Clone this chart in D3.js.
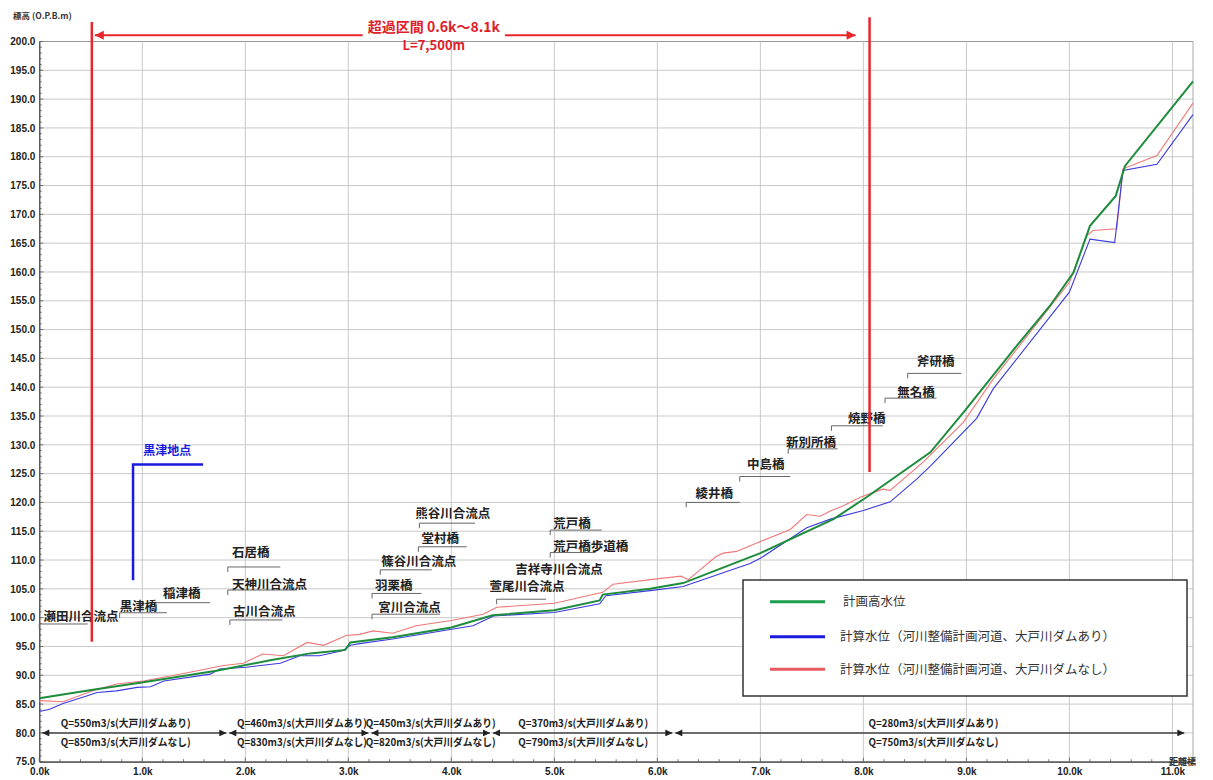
<!DOCTYPE html>
<html><head><meta charset="utf-8">
<script src="https://cdn.jsdelivr.net/npm/d3@7"></script>
<style>
body{margin:0;background:#fff}
text{font-family:"Noto Sans CJK JP","Noto Sans",sans-serif}
</style>
</head><body>
<svg id="c" width="1213" height="780"></svg>
<script>
// ---- data ----
const planKm    = [0.0,0.52,1.01,1.72,2.24,2.63,2.97,3.02,3.43,4.0,4.4,5.0,5.44,5.47,5.93,6.25,7.0,7.71,8.03,8.65,8.97,9.49,9.81,10.04,10.2,10.45,10.54,11.2];
const planLevel = [86.0,87.5,88.8,90.8,92.6,93.8,94.4,95.7,96.6,98.3,100.4,101.3,103.0,104.0,105.0,106.0,111.2,117.1,120.9,128.7,135.6,147.2,154.1,159.9,168.0,173.2,178.4,193.1];

const withDamKm    = [0.0,0.1,0.23,0.46,0.56,0.75,0.95,1.08,1.21,1.66,1.75,2.01,2.34,2.53,2.72,2.95,3.02,3.11,3.43,4.21,4.41,5.0,5.44,5.5,5.93,6.25,6.9,7.0,7.45,7.68,8.0,8.26,8.52,8.65,9.1,9.26,10.0,10.2,10.44,10.52,10.85,11.2];
const withDamLevel = [83.7,84.1,85.1,86.4,87.0,87.3,87.9,88.0,89.0,90.2,91.1,91.4,92.1,93.4,93.4,94.3,95.2,95.5,96.3,98.6,100.3,100.9,102.4,103.8,104.7,105.4,109.4,110.3,115.6,117.1,118.6,120.1,124.1,126.3,134.6,139.7,156.5,165.7,165.1,177.6,178.7,187.3];

const noDamKm    = [0.0,0.23,0.52,0.75,1.01,1.4,1.79,1.98,2.17,2.37,2.6,2.76,2.98,3.11,3.24,3.43,3.66,4.0,4.31,4.44,5.0,5.47,5.57,5.93,6.23,6.3,6.57,6.64,6.77,7.0,7.29,7.45,7.58,7.68,7.8,7.97,8.19,8.26,8.58,8.97,9.26,10.0,10.17,10.23,10.46,10.52,10.85,11.2];
const noDamLevel = [85.6,85.4,87.3,88.5,89.0,90.3,91.7,92.1,93.7,93.4,95.7,95.2,96.9,97.1,97.7,97.3,98.6,99.5,100.6,101.8,102.5,104.4,105.8,106.6,107.2,106.6,110.6,111.2,111.5,113.2,115.3,117.9,117.6,118.5,119.4,120.9,122.3,122.1,127.0,133.9,141.4,158.2,166.3,167.2,167.5,177.9,180.2,189.3];

const seriesNames = ["計画高水位","計算水位（河川整備計画河道、大戸川ダムあり）","計算水位（河川整備計画河道、大戸川ダムなし）"];

const yTicks = d3.range(75, 200.001, 5);
const xTicks = d3.range(0, 11.001, 1);

// site labels (km / elevation of text and leader)
const siteNames      = ["瀬田川合流点","黒津橋","稲津橋","石居橋","天神川合流点","古川合流点","宮川合流点","羽栗橋","篠谷川合流点","堂村橋","熊谷川合流点","萱尾川合流点","吉祥寺川合流点","荒戸橋","荒戸橋歩道橋","綾井橋","中島橋","新別所橋","焼野橋","無名橋","斧研橋"];
const siteTextKm     = [0.04,0.78,1.20,1.87,1.87,1.88,3.29,3.26,3.32,3.71,3.65,4.37,4.62,4.99,4.99,6.37,6.87,7.25,7.85,8.33,8.52];
const siteTextLevel  = [100.1,101.9,104.1,111.3,105.8,101.1,101.8,105.5,109.8,113.8,118.0,105.3,108.4,116.4,112.4,121.5,126.5,130.3,134.5,139.1,144.4];
const siteLineKm0    = [0.0,0.78,1.13,1.83,1.83,1.85,3.23,3.23,3.31,3.68,3.69,4.44,null,4.96,4.96,6.28,6.80,7.27,7.69,8.21,8.43];
const siteLineKm1    = [0.47,1.24,1.66,2.34,2.50,2.36,3.89,3.71,3.81,4.15,4.23,4.92,null,5.46,5.40,6.80,7.29,7.75,8.19,8.71,8.95];
const siteLineLevel  = [98.9,100.85,102.6,108.8,104.8,99.6,100.6,104.2,108.3,112.3,116.4,103.2,null,115.2,111.3,120.0,124.5,129.3,133.3,138.1,142.4];

// flow sections
const flowBounds  = [0.0,1.83,3.21,4.39,6.16,11.13];
const flowWithDam = [550,460,450,370,280];
const flowNoDam   = [850,830,820,790,750];
const flowTextKm  = [0.84,2.55,3.80,5.28,8.68];

// over-capacity section
const overKm = [0.51, 8.06];

// ---- drawing ----
const svg = d3.select("#c");
const x = d3.scaleLinear().domain([0, 11.2]).range([39.3, 1193]);
const y = d3.scaleLinear().domain([75, 200]).range([761.7, 41.5]);

const defs = svg.append("defs");
function marker(id, color, w, h){
  defs.append("marker").attr("id", id).attr("viewBox","0 0 10 10").attr("refX",10).attr("refY",5)
    .attr("markerWidth", w).attr("markerHeight", h).attr("markerUnits","userSpaceOnUse")
    .attr("orient","auto-start-reverse")
    .append("path").attr("d","M0,0L10,5L0,10Z").attr("fill", color);
}
marker("arR", "#e8262b", 12, 9);
marker("arK", "#222", 8, 7);

// grid
const g = svg.append("g");
g.selectAll(".hg").data(yTicks).join("line")
  .attr("x1", x(0)).attr("x2", x(11.2)).attr("y1", d=>y(d)).attr("y2", d=>y(d))
  .attr("stroke", d=> d===200 ? "#999" : "#c9c9c9").attr("stroke-width", 1);
g.selectAll(".vg").data(xTicks.filter(d=>d>0)).join("line")
  .attr("x1", d=>x(d)).attr("x2", d=>x(d)).attr("y1", y(200)).attr("y2", y(75))
  .attr("stroke", "#c9c9c9").attr("stroke-width", 1);
g.append("line").attr("x1", x(11.2)).attr("x2", x(11.2)).attr("y1", y(200)).attr("y2", y(75))
  .attr("stroke", "#aaa");

// axes
const yAxis = d3.axisLeft(y).tickValues(yTicks).tickSize(0).tickFormat(d3.format(".1f"));
const ya = svg.append("g").attr("transform", `translate(${x(0)},0)`).call(yAxis);
ya.select(".domain").attr("stroke", "#333").attr("stroke-width", 1.2);
ya.selectAll("text").attr("x", -4).attr("font-size", 10).attr("font-weight", 700)
  .attr("fill", "#222").style("font-family", "'Liberation Sans', Arial, sans-serif");

const xAxis = d3.axisBottom(x).tickValues(xTicks).tickSize(0).tickFormat(d=>d3.format(".1f")(d)+"k");
const xa = svg.append("g").attr("transform", `translate(0,${y(75)})`).call(xAxis);
xa.select(".domain").attr("stroke", "#333").attr("stroke-width", 1.2);
xa.selectAll("text").attr("y", 6).attr("font-size", 10).attr("font-weight", 700)
  .attr("fill", "#222").style("font-family", "'Liberation Sans', Arial, sans-serif");

// minor ticks
svg.append("g").selectAll("line").data(d3.range(75, 200.001, 1)).join("line")
  .attr("x1", x(0)).attr("x2", d => x(0) + (d % 5 === 0 ? 4 : 2.5)).attr("y1", d=>y(d)).attr("y2", d=>y(d))
  .attr("stroke", "#555").attr("stroke-width", 0.8);
svg.append("g").selectAll("line").data(d3.range(0, 11.201, 0.2)).join("line")
  .attr("x1", d=>x(d)).attr("x2", d=>x(d)).attr("y1", y(75)).attr("y2", (d,i) => y(75) - (i % 5 === 0 ? 4 : 2.5))
  .attr("stroke", "#555").attr("stroke-width", 0.8);

svg.append("text").attr("x", 13).attr("y", 19).attr("font-size", 8.5).attr("font-weight", 700)
  .attr("fill", "#333").text("標高 (O.P.B.m)");
svg.append("text").attr("x", 1196).attr("y", 765).attr("text-anchor", "end").attr("font-size", 9)
  .attr("font-weight", 700).attr("fill", "#333").text("距離標");

// flow sections
const flowG = svg.append("g");
for (let i = 0; i < flowWithDam.length; i++) {
  const x0 = x(flowBounds[i]) + (i === 0 ? 3 : 1.5), x1 = x(flowBounds[i+1]) - 1.5;
  flowG.append("line").attr("x1", x0).attr("x2", x1).attr("y1", y(80)).attr("y2", y(80))
    .attr("stroke", "#444").attr("stroke-width", 1.5)
    .attr("marker-start", "url(#arK)").attr("marker-end", "url(#arK)");
  const tx = x(flowTextKm[i]);
  flowG.append("text").attr("x", tx).attr("y", y(80) - 9.5).attr("dy", "0.35em").attr("text-anchor", "middle")
    .attr("font-size", 10.5).attr("font-weight", 700).attr("fill", "#222")
    .attr("textLength", 130).attr("lengthAdjust", "spacingAndGlyphs")
    .text(`Q=${flowWithDam[i]}m3/s(大戸川ダムあり)`);
  flowG.append("text").attr("x", tx).attr("y", y(80) + 9).attr("dy", "0.35em").attr("text-anchor", "middle")
    .attr("font-size", 10.5).attr("font-weight", 700).attr("fill", "#222")
    .attr("textLength", 130).attr("lengthAdjust", "spacingAndGlyphs")
    .text(`Q=${flowNoDam[i]}m3/s(大戸川ダムなし)`);
}

// site labels
const sg = svg.append("g");
siteNames.forEach((n, i) => {
  if (siteLineKm0[i] !== null) {
    const ly = y(siteLineLevel[i]);
    sg.append("path").attr("d", `M${x(siteLineKm0[i])},${ly + 5}V${ly}H${x(siteLineKm1[i])}`)
      .attr("fill", "none").attr("stroke", "#666").attr("stroke-width", 1);
  }
  sg.append("text").attr("x", x(siteTextKm[i])).attr("y", y(siteTextLevel[i])).attr("dy", "0.35em")
    .attr("font-size", 12.5).attr("font-weight", 700).attr("fill", "#222").text(n);
});

// 黒津地点
svg.append("path").attr("d", `M${x(0.91)},${y(106.5)}V${y(126.6)}H${x(1.59)}`)
  .attr("fill", "none").attr("stroke", "#1a1adf").attr("stroke-width", 2.5);
svg.append("text").attr("x", x(1.01)).attr("y", y(129.0)).attr("dy", "0.35em")
  .attr("font-size", 12).attr("font-weight", 700).attr("fill", "#1a1adf").text("黒津地点");

// series lines
const line = d3.line().x(d => x(d[0])).y(d => y(d[1]));
const toPts = (a, b) => a.map((v, i) => [v, b[i]]);
svg.append("path").attr("d", line(toPts(noDamKm, noDamLevel))).attr("fill", "none")
  .attr("stroke", "#f07878").attr("stroke-width", 1.1);
svg.append("path").attr("d", line(toPts(withDamKm, withDamLevel))).attr("fill", "none")
  .attr("stroke", "#3a3ae0").attr("stroke-width", 1.1);
svg.append("path").attr("d", line(toPts(planKm, planLevel))).attr("fill", "none")
  .attr("stroke", "#1d8c3c").attr("stroke-width", 2);

// over-capacity section
svg.append("line").attr("x1", x(overKm[0])).attr("x2", x(overKm[0])).attr("y1", y(203.4)).attr("y2", y(95.8))
  .attr("stroke", "#e8262b").attr("stroke-width", 2.5);
svg.append("line").attr("x1", x(overKm[1])).attr("x2", x(overKm[1])).attr("y1", y(204.2)).attr("y2", y(125.3))
  .attr("stroke", "#e8262b").attr("stroke-width", 2.5);
const ay = y(201.1);
svg.append("line").attr("x1", x(3.14)).attr("x2", x(overKm[0]) + 3).attr("y1", ay).attr("y2", ay)
  .attr("stroke", "#e8262b").attr("stroke-width", 2).attr("marker-end", "url(#arR)");
svg.append("line").attr("x1", x(4.52)).attr("x2", x(overKm[1]) - 14).attr("y1", ay).attr("y2", ay)
  .attr("stroke", "#e8262b").attr("stroke-width", 2).attr("marker-end", "url(#arR)");
svg.append("text").attr("x", x(3.83)).attr("y", 27).attr("dy", "0.35em").attr("text-anchor", "middle")
  .attr("font-size", 14).attr("font-weight", 700).attr("fill", "#e02028")
  .text(`超過区間 ${overKm[0] + 0.09}k～${d3.format(".1f")(overKm[1])}k`);
svg.append("text").attr("x", x(3.83)).attr("y", 45).attr("dy", "0.35em").attr("text-anchor", "middle")
  .attr("font-size", 13).attr("font-weight", 700).attr("fill", "#e02028").text("L=7,500m");

// legend
const lg = svg.append("g");
lg.append("rect").attr("x", 743).attr("y", 580).attr("width", 444).attr("height", 116)
  .attr("fill", "#fff").attr("stroke", "#333").attr("stroke-width", 1.5);
const legColors = ["#1d9e4d", "#1a1adf", "#e85a60"];
const legY = [601.7, 636.7, 669.3];
seriesNames.forEach((n, i) => {
  lg.append("line").attr("x1", 770).attr("x2", 825).attr("y1", legY[i]).attr("y2", legY[i])
    .attr("stroke", legColors[i]).attr("stroke-width", 3);
  lg.append("text").attr("x", i === 0 ? 843 : 840).attr("y", legY[i]).attr("dy", "0.35em")
    .attr("font-size", 12.5).attr("fill", "#333").text(n);
});
</script>
</body></html>
